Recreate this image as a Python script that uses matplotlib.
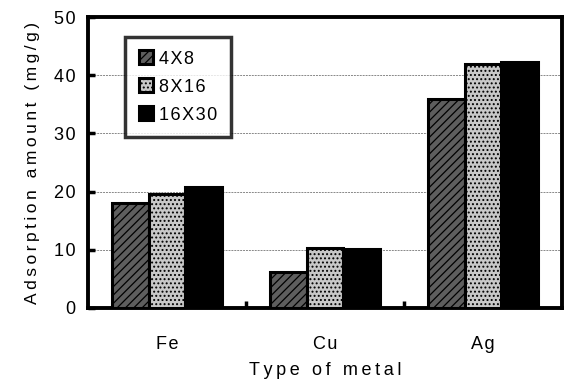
import matplotlib
matplotlib.use("Agg")
import matplotlib.pyplot as plt
import numpy as np

plt.rcParams['font.family'] = ['Liberation Sans', 'DejaVu Sans']
plt.rcParams['hatch.color'] = '#d8d8d8'
plt.rcParams['hatch.linewidth'] = 0.9

metals = ["Fe", "Cu", "Ag"]
sizes = ["4X8", "8X16", "16X30"]
values = {
    "4X8": [18.1, 6.1, 35.9],
    "8X16": [19.6, 10.3, 41.9],
    "16X30": [20.8, 10.2, 42.2],
}
yticks = [0, 10, 20, 30, 40, 50]

faces = {"4X8": "#5e5e5e", "8X16": "#c8c8c8", "16X30": "black"}
hatches = {"4X8": "////", "8X16": "....", "16X30": None}


def spaced(text, gap="\u200a"):
    # the scanned figure uses wide letter spacing
    return gap.join(text)


fig = plt.figure(figsize=(5.65, 3.81), dpi=100)
ax = fig.add_axes([88 / 565, 1 - 308 / 381, 474 / 565, 291 / 381])

x = np.arange(len(metals))
w = 0.23
for i, s in enumerate(sizes):
    ax.bar(x + (i - 1) * w, values[s], width=w, color=faces[s],
           hatch=hatches[s], edgecolor="black", linewidth=2.2,
           label=spaced(s), zorder=3)

ax.set_xlim(-0.5, 2.5)
ax.set_ylim(0, 50)
ax.set_yticks(yticks)
ax.set_yticklabels([spaced(str(t)) for t in yticks])
ax.set_xticks(x)
ax.set_xticklabels([spaced(m) for m in metals])
ax.set_xticks([0.5, 1.5], minor=True)
ax.tick_params(axis="x", which="major", length=0, pad=20, labelsize=13)
ax.tick_params(axis="x", which="minor", direction="in", length=5, width=2.5)
ax.tick_params(axis="y", direction="in", length=5, width=2.5, pad=9,
               labelsize=13)

for gy in [10, 20, 30, 40]:
    ax.axhline(gy, color="#888888", linestyle=(0, (2, 1)), linewidth=0.7,
               zorder=1)

for sp in ax.spines.values():
    sp.set_linewidth(2.8)

ax.set_ylabel(spaced("Adsorption amount (mg/g)", "\u2009"), fontsize=12.5,
              labelpad=10)
ax.set_xlabel(spaced("Type of metal", "\u2009"), fontsize=13)
ax.xaxis.set_label_coords(0.5, -0.185)

leg = ax.legend(loc="upper left", bbox_to_anchor=(0.078, 0.932),
                borderaxespad=0, fontsize=13, frameon=True, fancybox=False,
                handlelength=0.8, handleheight=0.8, handletextpad=0.35,
                labelspacing=0.6, borderpad=0.75)
leg.get_frame().set_edgecolor("black")
leg.get_frame().set_linewidth(2.5)

fig.savefig("out.png", dpi=100)
